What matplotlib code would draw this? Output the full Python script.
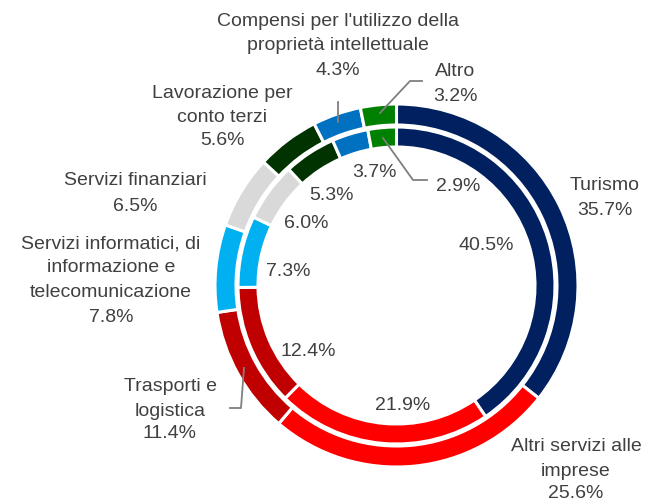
import matplotlib
matplotlib.use("Agg")
import matplotlib.pyplot as plt

plt.rcParams['font.family'] = ['Liberation Sans', 'DejaVu Sans']

# dati
categorie = ["Turismo", "Altri servizi alle\nimprese", "Trasporti e\nlogistica",
             "Servizi informatici, di\ninformazione e\ntelecomunicazione",
             "Servizi finanziari", "Lavorazione per\nconto terzi",
             "Compensi per l'utilizzo della\nproprietà intellettuale", "Altro"]
esterno = [35.7, 25.6, 11.4, 7.8, 6.5, 5.6, 4.3, 3.2]
interno = [40.5, 21.9, 12.4, 7.3, 6.0, 5.3, 3.7, 2.9]
colori = ["#002060", "#FF0000", "#C00000", "#00B0F0", "#D9D9D9",
          "#003300", "#0070C0", "#008000"]

W, H = 647, 503
fig = plt.figure(figsize=(W / 100, H / 100), dpi=100)
ax = fig.add_axes([0, 0, 1, 1])

cx, cy, R = 396.5, 285.5, 181.5
centro = (cx, H - cy)

ax.pie(esterno, radius=R, center=centro, colors=colori, startangle=90,
       counterclock=False,
       wedgeprops=dict(width=21, edgecolor="white", linewidth=2.2))
ax.pie(interno, radius=158.5, center=centro, colors=colori, startangle=90,
       counterclock=False,
       wedgeprops=dict(width=20, edgecolor="white", linewidth=2.2))

ax.set_xlim(0, W)
ax.set_ylim(0, H)
ax.set_aspect("equal")
ax.axis("off")

grigio = "#404040"
fs = 14

def testo(x, y, s):
    ax.text(x, H - y, s, ha="center", va="center", fontsize=fs, color=grigio,
            linespacing=1.55)

# etichette anello esterno: (x, y nome, y valore) in pixel
pos_est = [(605, 185, 210), (576, 459, 493), (170, 399, 434), (111, 268, 317),
           (135, 180, 206), (222, 105.5, 140), (338, 33.5, 70), (455, 71, 96)]
for (x, yn, yv), c, v in zip(pos_est, categorie, esterno):
    testo(x, yn, c)
    testo(x, yv, f"{v:.1f}%")

# etichette anello interno
pos_int = [(486, 245), (403, 406), (308, 352), (288, 272),
           (306, 223), (331, 195), (374, 172), (458, 186)]
for (x, y), v in zip(pos_int, interno):
    testo(x, y, f"{v:.1f}%")

# linee guida
def linea(xs, ys):
    ax.plot(xs, [H - y for y in ys], color="#7F7F7F", lw=1.3)

linea([230, 241, 244], [408, 408, 368])
linea([338, 338], [102, 122])
linea([422, 410, 380], [81, 81, 113])
linea([383, 413, 427], [138, 180, 180])

fig.savefig("out.png", dpi=100)
